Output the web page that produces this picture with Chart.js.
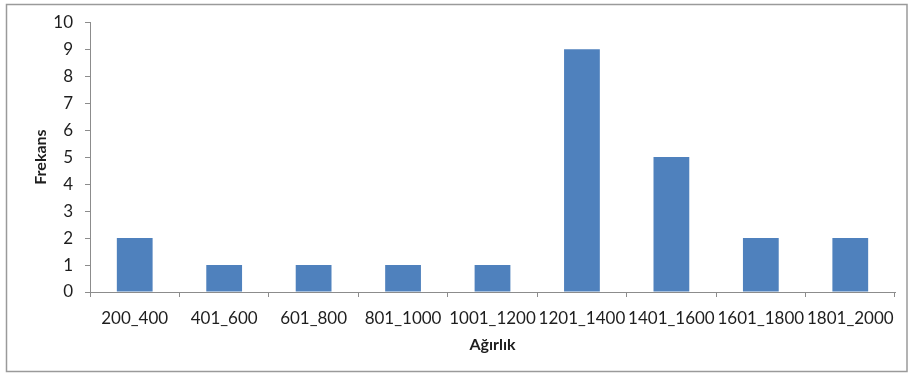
<!DOCTYPE html>
<html>
<head>
<meta charset="utf-8">
<script src="https://cdn.jsdelivr.net/npm/chart.js@4.4.1/dist/chart.umd.min.js"></script>
<style>
  html, body { margin: 0; padding: 0; background: #fff; }
  #wrap { position: relative; width: 908px; height: 373px; }
</style>
</head>
<body>
<div id="wrap"><canvas id="c" width="908" height="373"></canvas></div>
<script>
// Weight classes and how many items fall in each
const categories = ['200_400', '401_600', '601_800', '801_1000', '1001_1200', '1201_1400', '1401_1600', '1601_1800', '1801_2000'];
const frequencies = [2, 1, 1, 1, 1, 9, 5, 2, 2];
const yTicks = [0, 1, 2, 3, 4, 5, 6, 7, 8, 9, 10];
const xTitle = 'Ağırlık';
const yTitle = 'Frekans';

const FONT = 'Lato, "Open Sans", sans-serif';
const TEXT = '#1e1e1e';
const AXIS = '#8c8c8c';

// Thin grey frame around the whole chart
const frame = {
  id: 'frame',
  beforeDraw(chart) {
    const ctx = chart.ctx;
    ctx.save();
    ctx.fillStyle = '#fff';
    ctx.fillRect(0, 0, chart.width, chart.height);
    ctx.strokeStyle = '#9a9a9a';
    ctx.lineWidth = 1.5;
    ctx.strokeRect(6.5, 4.5, chart.width - 7.5, chart.height - 6);
    ctx.restore();
  }
};

new Chart(document.getElementById('c'), {
  type: 'bar',
  data: {
    labels: categories,
    datasets: [{
      data: frequencies,
      backgroundColor: '#4f81bd',
      borderWidth: 0,
      categoryPercentage: 1,
      barPercentage: 0.4
    }]
  },
  options: {
    responsive: false,
    animation: false,
    events: [],
    layout: { padding: { left: 0, top: 22, right: 13, bottom: 0 } },
    plugins: { legend: { display: false }, tooltip: { enabled: false } },
    scales: {
      x: {
        grid: { drawOnChartArea: false, drawTicks: true, tickLength: 5, color: AXIS, offset: true },
        border: { display: true, color: AXIS, width: 1 },
        ticks: { color: TEXT, font: { family: FONT, size: 17 }, padding: 11, maxRotation: 0, autoSkip: false },
        title: { display: true, text: xTitle, color: TEXT, font: { family: FONT, size: 16, weight: 'bold' }, padding: { top: 0, bottom: 19 } },
        afterFit(s) { s.height = 81; }
      },
      y: {
        min: 0,
        max: 10,
        afterBuildTicks(s) { s.ticks = yTicks.map(v => ({ value: v })); },
        grid: { drawOnChartArea: false, drawTicks: true, tickLength: 5, color: AXIS },
        border: { display: true, color: AXIS, width: 1 },
        ticks: { color: TEXT, font: { family: FONT, size: 17 }, padding: 12 },
        title: { display: true, text: yTitle, color: TEXT, font: { family: FONT, size: 16, weight: 'bold' }, padding: { top: 31, bottom: 0 } },
        afterFit(s) { s.width = 90; }
      }
    }
  },
  plugins: [frame]
});
</script>
</body>
</html>
